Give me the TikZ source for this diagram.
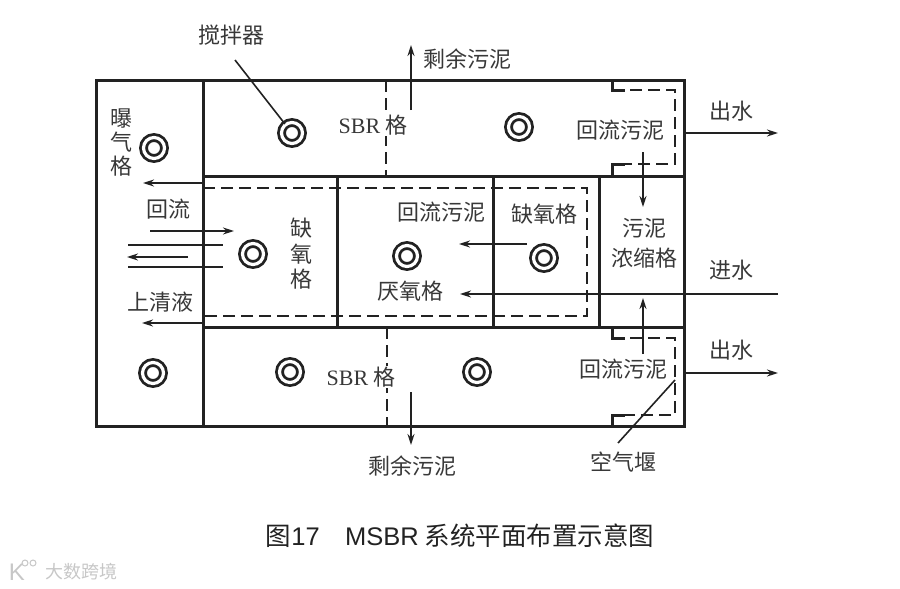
\documentclass[tikz,border=0pt]{standalone}
\usepackage{fontspec}
\setmainfont{Liberation Serif}
\setsansfont{Liberation Sans}
\newfontfamily\cjk{Noto Sans CJK SC}
\usetikzlibrary{arrows.meta}
\definecolor{ink}{HTML}{222222}
\tikzset{
    wall/.style={draw=ink,line width=3pt},
    dashwall/.style={draw=ink,line width=2.3pt,dash pattern=on 12pt off 6pt},
    flow/.style={draw=ink,line width=1.6pt,-{Stealth[length=11pt,width=7pt]}},
    leader/.style={draw=ink,line width=1.6pt},
    mixer/.style={circle,draw=ink,line width=2.8pt,double,double distance=3.2pt,minimum size=21pt,inner sep=0pt,outer sep=1pt},
    lab/.style={font=\fontsize{22}{22}\selectfont\cjk,text=ink!90,inner sep=1pt},
}
\begin{document}
\begin{tikzpicture}[x=1pt,y=-1pt]
    \useasboundingbox (0,0) rectangle (900,589);
    % walls
    \draw[wall] (96,80) rectangle (684,426);
    \draw[wall] (203,80) -- (203,426);
    \draw[wall] (203,176) -- (684,176) (203,327) -- (684,327);
    \draw[wall] (337,176) -- (337,327) (493,176) -- (493,327) (599,176) -- (599,327);
    % dashed baffles
    \draw[dashwall] (386,80) -- (386,176) (387,327) -- (387,426);
    \draw[dashwall] (203,188) -- (587,188) -- (587,316) -- (203,316);
    \draw[dashwall] (612,90) -- (675,90) -- (675,164) -- (612,164);
    \draw[dashwall] (612,338) -- (675,338) -- (675,415) -- (612,415);
    \draw[wall] (612,80) -- (612,90) -- (625,90) (612,176) -- (612,164) -- (625,164);
    \draw[wall] (612,327) -- (612,338) -- (625,338) (612,426) -- (612,415) -- (625,415);
    % mixers
    \foreach \name/\x/\y in {ma/292/133,mb/519/127,mc/154/148,md/253/254,me/407/256,mf/544/258,mg/153/373,mh/290/372,mi/477/372}
        \node[mixer] (\name) at (\x,\y) {};
    % labels
    \node[lab] (mixlab) at (231,35) {搅拌器};
    \node[lab] (sludgetop) at (467,59) {剩余污泥};
    \node[lab] (sludgebot) at (412,466) {剩余污泥};
    \node[lab] (weirlab) at (623,462) {空气堰};
    \node[lab] (outa) at (731,111) {出水};
    \node[lab] (outb) at (731,350) {出水};
    \node[lab] (inlab) at (731,270) {进水};
    \node[lab] (reta) at (620,130) {回流污泥};
    \node[lab] (retb) at (441,212) {回流污泥};
    \node[lab] (retc) at (623,369) {回流污泥};
    \node[lab] (anoxa) at (544,214) {缺氧格};
    \node[lab,align=center] (thick) at (644,243) {污泥\\[8pt]浓缩格};
    \node[lab] (anaer) at (410,291) {厌氧格};
    \node[lab,fill=white] (sbra) at (373,125) {{\rmfamily SBR} 格};
    \node[lab,fill=white] (sbrb) at (361,377) {{\rmfamily SBR} 格};
    \node[lab] (backlab) at (168,209) {回流};
    \node[lab] (clearlab) at (160,302) {上清液};
    \node[lab,align=center] (aerlab) at (121,143) {曝\\[2pt]气\\[2pt]格};
    \node[lab,align=center] (anoxb) at (301,254) {缺\\[3.5pt]氧\\[3.5pt]格};
    \node[font=\fontsize{25.5}{25.5}\selectfont\cjk,text=ink] (title) at (460,536) {图{\sffamily 17\quad MSBR} 系统平面布置示意图};
    \node[font=\fontsize{18}{18}\selectfont\cjk,text=black!22] (mark) at (81,572) {大数跨境};
    % logo
    \node[font=\fontsize{24}{24}\selectfont\sffamily,text=black!22,inner sep=0pt] (logok) at (17,572) {K};
    \draw[black!22,line width=1pt] (25,563) circle (3pt) (33,563) circle (3pt);
    % leaders
    \coordinate (mixfoot) at (235,60);
    \draw[leader] (mixfoot) -- (ma);
    \coordinate (weirend) at (675,380);
    \coordinate (weirfoot) at (618,443);
    \draw[leader] (weirfoot) -- (weirend);
    % flows
    \draw[flow] (411,110) -- (411,45);
    \draw[flow] (411,392) -- (411,445);
    \draw[flow] (686,133) -- (778,133);
    \draw[flow] (686,373) -- (778,373);
    \draw[flow] (778,294) -- (460,294);
    \draw[flow] (527,244) -- (459,244);
    \draw[flow] (643,152) -- (643,207);
    \draw[flow] (643,354) -- (643,298);
    \draw[flow] (203,183) -- (143,183);
    \draw[flow] (150,231) -- (234,231);
    \draw[flow] (188,257) -- (127,257);
    \draw[flow] (203,323) -- (142,323);
    \draw[leader] (128,245) -- (223,245) (128,267) -- (223,267);
\end{tikzpicture}
\end{document}
